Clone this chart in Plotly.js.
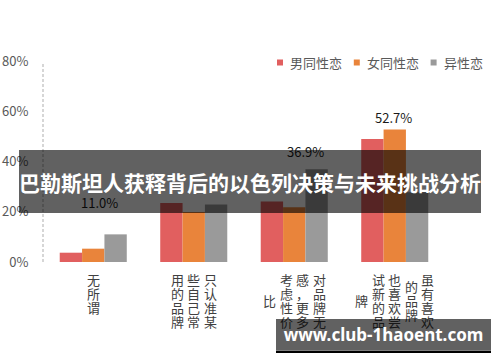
<!DOCTYPE html>
<html>
<head>
<meta charset="utf-8">
<script src="https://cdn.plot.ly/plotly-3.0.1.min.js"></script>
<style>html,body{margin:0;padding:0;background:#fff;}#chart{width:500px;height:362px;}</style>
</head>
<body>
<div id="chart"></div>
<script>
// ---- data ----
const categories = ['无所谓', '只认准某些自己常用的品牌', '对品牌无感，更多考虑性价比', '虽有喜欢的品牌，也喜欢尝试新的品牌'];
const seriesNames = ['男同性恋', '女同性恋', '异性恋'];
const gayMale = [0.037, 0.235, 0.241, 0.490];
const lesbian = [0.053, 0.199, 0.218, 0.527];
const hetero = [0.110, 0.229, 0.369, 0.278];
const labelledSeries = [2, null, 2, 1];   // which series carries the value label in each group
const yTickVals = [0, 0.2, 0.4, 0.6, 0.8];
const yTickText = ['0%', '20%', '40%', '60%', '80%'];
const bannerText = '巴勒斯坦人获释背后的以色列决策与未来挑战分析';
const watermarkText = 'www.club-1haoent.com';

// ---- style ----
const colors = ['#E15F5F', '#E9843B', '#9A9A9A'];
const W = 500, H = 362;
const M = {l: 43, r: 55, t: 61, b: 100};
const PW = W - M.l - M.r, PH = H - M.t - M.b;
const px2x = px => (px - M.l) / PW;
const px2y = py => (H - M.b - py) / PH;
const cjk = '"Noto Sans CJK SC", "Noto Sans", sans-serif';
const labelShift = [[6, 32], null, [11.5, 18], [-1.5, 12.5]];

const allSeries = [gayMale, lesbian, hetero];
const traces = allSeries.map((vals, s) => ({
  type: 'bar',
  name: seriesNames[s],
  x: categories.map((c, i) => i),
  y: vals,
  marker: {color: colors[s], line: {width: 0}},
  hoverinfo: 'none',
  showlegend: false
}));

const annotations = [];
const shapes = [];

// dashed value axis line
shapes.push({type: 'line', xref: 'paper', yref: 'paper', x0: 0, x1: 0, y0: 0, y1: px2y(63),
  line: {color: '#d6d6d6', width: 2, dash: '3px,2px'}, layer: 'below'});

// value labels
labelledSeries.forEach((s, i) => {
  if (s === null) return;
  const v = allSeries[s][i];
  const barOffset = (s - 1) * (PW / categories.length) * (2 / 3) / 3;
  annotations.push({
    xref: 'x', yref: 'y', x: i, y: v, showarrow: false,
    text: (v * 100).toFixed(1) + '%',
    xanchor: 'center', yanchor: 'middle',
    xshift: labelShift[i][0], yshift: labelShift[i][1],
    font: {family: cjk, size: 13, color: '#1a1a1a'}
  });
});

// vertical category labels (columns of 4 characters, right to left)
const rowH = 14.3, colW = 16.5, firstRow = 279, baseline = H - M.b;
categories.forEach((lab, i) => {
  const chars = Array.from(lab);
  const cols = [];
  for (let k = 0; k < chars.length; k += 4) cols.push(chars.slice(k, k + 4));
  const trimmed = cols.map(c => { const t = c.slice(); while (t.length && '，,'.includes(t[t.length - 1])) t.pop(); return t; });
  const blockRows = Math.max(...trimmed.map(c => c.length));
  const blockCenter = firstRow + (blockRows - 1) / 2 * rowH;
  trimmed.forEach((col, k) => {
    const xs = ((cols.length - 1) / 2 - k) * colW;
    col.forEach((ch, r) => {
      const cy = blockCenter + (r - (col.length - 1) / 2) * rowH;
      annotations.push({
        xref: 'x', yref: 'paper', x: i, y: 0, showarrow: false, text: ch,
        xanchor: 'center', yanchor: 'middle', xshift: xs, yshift: -(cy - baseline),
        font: {family: cjk, size: 13, color: '#404040'}
      });
    });
  });
});

// custom legend
let lx = 277;
seriesNames.forEach((n, s) => {
  shapes.push({type: 'rect', xref: 'paper', yref: 'paper', x0: px2x(lx), x1: px2x(lx + 6),
    y0: px2y(65.5), y1: px2y(59.5), fillcolor: colors[s], line: {width: 0}});
  annotations.push({xref: 'paper', yref: 'paper', x: px2x(lx + 11), y: px2y(63), showarrow: false,
    text: n, xanchor: 'left', yanchor: 'middle', font: {family: cjk, size: 13, color: '#595959'}});
  lx += 11 + n.length * 13.2 + 13;
});

// overlay banner and watermark (drawn last so they sit on top)
annotations.push({xref: 'paper', yref: 'paper', x: px2x(250), y: px2y(181.4), xanchor: 'center', yanchor: 'middle',
  showarrow: false, text: '<b>' + bannerText + '</b>', bgcolor: 'rgba(0,0,0,0.62)', width: 462, height: 63,
  borderpad: 0, borderwidth: 0, font: {family: cjk, size: 21, color: '#ffffff'}});
annotations.push({xref: 'paper', yref: 'paper', x: px2x(383.4), y: px2y(334.5), xanchor: 'center', yanchor: 'middle',
  showarrow: false, text: '<b>' + watermarkText + '</b>', bgcolor: 'rgba(0,0,0,0.62)', width: 215, height: 31,
  borderpad: 0, borderwidth: 0, font: {family: '"Noto Sans", sans-serif', size: 17, color: '#ffffff'}});
shapes.push({type: 'line', xref: 'paper', yref: 'paper', x0: px2x(276), x1: px2x(491), y0: px2y(351.7), y1: px2y(351.7),
  line: {color: '#000000', width: 2.5}, layer: 'above'});

const layout = {
  width: W, height: H, margin: M,
  paper_bgcolor: '#ffffff', plot_bgcolor: '#ffffff',
  barmode: 'group', bargap: 0.333, bargroupgap: 0,
  showlegend: false,
  xaxis: {type: 'linear', range: [-0.5, categories.length - 0.5], showticklabels: false, showgrid: false,
    zeroline: false, showline: false, ticks: ''},
  yaxis: {range: [0, 0.8], tickvals: yTickVals, ticktext: yTickText, showgrid: false, zeroline: false,
    showline: false, ticks: 'outside', ticklen: 11, tickcolor: 'rgba(0,0,0,0)',
    tickfont: {family: cjk, size: 13, color: '#595959'}},
  annotations: annotations,
  shapes: shapes
};

Plotly.newPlot('chart', traces, layout, {staticPlot: true, displayModeBar: false});
</script>
</body>
</html>
